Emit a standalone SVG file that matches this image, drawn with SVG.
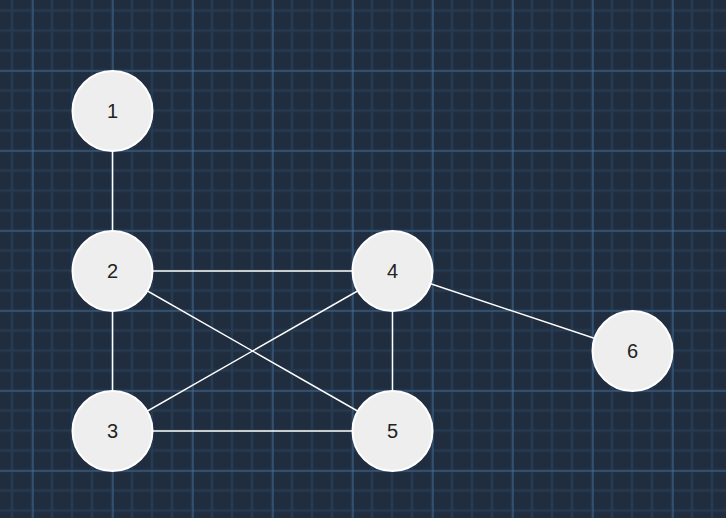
<svg xmlns="http://www.w3.org/2000/svg" width="726" height="518" viewBox="0 0 726 518">
<defs>
<pattern id="minor" x="2" y="0.5" width="20" height="20" patternUnits="userSpaceOnUse">
<path d="M10 0V20M0 10H20" stroke="#3f6a98" stroke-width="2.5" stroke-opacity="0.22" fill="none"/>
</pattern>
<pattern id="major" x="32.5" y="70.5" width="80" height="80" patternUnits="userSpaceOnUse">
<path d="M0 0V80M0 0H80" stroke="#5a8cc4" stroke-width="1.5" stroke-opacity="0.7" fill="none"/>
</pattern>
<style>
.edge{stroke:#ffffff;stroke-width:1.5;fill:none}
.node circle{fill:#eeeeee;stroke:#ffffff;stroke-width:2}
.node text{font-family:"Liberation Sans",Arial,sans-serif;font-size:20px;fill:#222222;text-anchor:middle;dominant-baseline:central}
</style>
</defs>
<rect width="726" height="518" fill="#1f2d3e"/>
<rect width="726" height="518" fill="url(#minor)"/>
<rect width="726" height="518" fill="url(#major)"/>
<g id="connectors">
<line class="edge" x1="112.5" y1="111" x2="112.5" y2="271"/>
<line class="edge" x1="112.5" y1="271" x2="392.5" y2="271"/>
<line class="edge" x1="112.5" y1="271" x2="392.5" y2="431"/>
<line class="edge" x1="112.5" y1="271" x2="112.5" y2="431"/>
<line class="edge" x1="112.5" y1="431" x2="392.5" y2="271"/>
<line class="edge" x1="392.5" y1="271" x2="392.5" y2="431"/>
<line class="edge" x1="112.5" y1="431" x2="392.5" y2="431"/>
<line class="edge" x1="392.5" y1="271" x2="632.5" y2="351"/>
</g>
<g id="node1" class="node"><circle cx="112.5" cy="111" r="40"/><text x="112.5" y="111">1</text></g>
<g id="node2" class="node"><circle cx="112.5" cy="271" r="40"/><text x="112.5" y="271">2</text></g>
<g id="node3" class="node"><circle cx="112.5" cy="431" r="40"/><text x="112.5" y="431">3</text></g>
<g id="node4" class="node"><circle cx="392.5" cy="271" r="40"/><text x="392.5" y="271">4</text></g>
<g id="node5" class="node"><circle cx="392.5" cy="431" r="40"/><text x="392.5" y="431">5</text></g>
<g id="node6" class="node"><circle cx="632.5" cy="351" r="40"/><text x="632.5" y="351">6</text></g>
</svg>
